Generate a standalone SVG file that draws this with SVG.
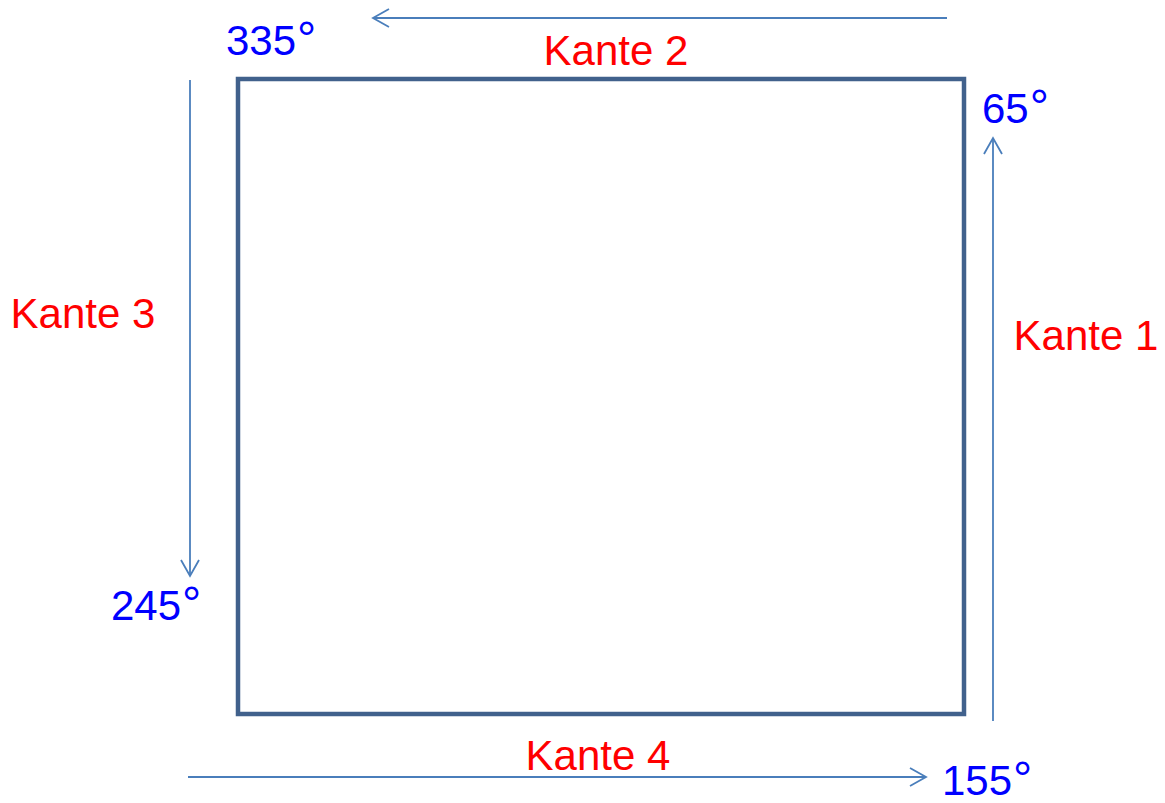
<svg xmlns="http://www.w3.org/2000/svg" width="1165" height="803" viewBox="0 0 1165 803">
<style>
.edge{fill:#FF0000;font-family:"Liberation Sans",Arial,sans-serif;font-size:42px;text-anchor:middle}
.deg{fill:#0000FF;font-family:"Liberation Sans",Arial,sans-serif;font-size:42px}
.ring{font-size:48px}
.arr{stroke:#4A7EBB;stroke-width:1.8;fill:none}
</style>
<defs>
<marker id="open" viewBox="0 0 20 20" refX="18" refY="10" markerWidth="20" markerHeight="20" markerUnits="userSpaceOnUse" orient="auto">
<path d="M2,1 L18,10 L2,19" fill="none" stroke="#4A7EBB" stroke-width="1.8"/>
</marker>
</defs>
<rect width="1165" height="803" fill="#FFFFFF"/>
<g id="square">
<rect x="238" y="79" width="726" height="635" fill="none" stroke="#41618C" stroke-width="4.5"/>
</g>
<g id="connectors">
<line class="arr" x1="993" y1="721" x2="993" y2="138" marker-end="url(#open)"/>
<line class="arr" x1="947" y1="18" x2="373" y2="18" marker-end="url(#open)"/>
<line class="arr" x1="190" y1="80" x2="190" y2="576" marker-end="url(#open)"/>
<line class="arr" x1="188" y1="777" x2="926" y2="777" marker-end="url(#open)"/>
</g>
<g id="labels">
<text class="edge" x="1086" y="350">Kante 1</text>
<text class="edge" x="616" y="65">Kante 2</text>
<text class="edge" x="83" y="328">Kante 3</text>
<text class="edge" x="598" y="770">Kante 4</text>
</g>
<g id="angles">
<text class="deg" x="982" y="123">65<tspan class="ring" dx="1">°</tspan></text>
<text class="deg" x="226" y="55">335<tspan class="ring" dx="1">°</tspan></text>
<text class="deg" x="111" y="620">245<tspan class="ring" dx="1">°</tspan></text>
<text class="deg" x="942" y="795">155<tspan class="ring" dx="1">°</tspan></text>
</g>
</svg>
